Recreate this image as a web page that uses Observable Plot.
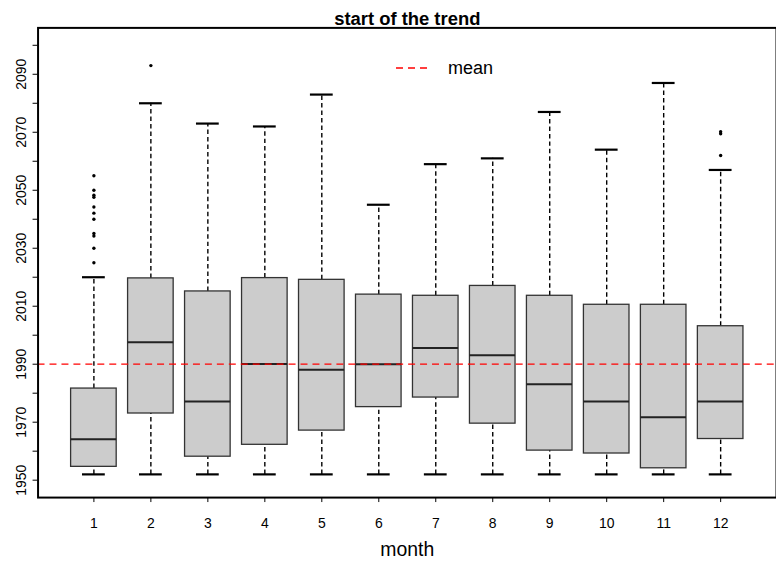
<!DOCTYPE html>
<html><head><meta charset="utf-8">
<script src="https://cdn.jsdelivr.net/npm/d3@7"></script>
<script src="https://cdn.jsdelivr.net/npm/@observablehq/plot@0.6"></script>
<style>
html,body{margin:0;padding:0;background:#fff;overflow:hidden;}
#wrap{position:relative;width:776px;height:567px;overflow:hidden;font-family:"Liberation Sans",Arial,sans-serif;}
#legend{position:absolute;left:390px;top:56px;}
</style></head>
<body>
<div id="wrap"><div id="chart"></div>
<svg id="legend" width="140" height="26">
  <line x1="6" x2="37" y1="12" y2="12" stroke="red" stroke-width="1.3" stroke-dasharray="7,5"></line>
  <text x="58" y="12" dominant-baseline="central" font-size="18" font-family="Liberation Sans, Arial, sans-serif">mean</text>
</svg>
</div>
<script>
const title = "start of the trend";
const xLabel = "month";
const months = [1,2,3,4,5,6,7,8,9,10,11,12];
const lower  = [1952,1952,1952,1952,1952,1952,1952,1952,1952,1952,1952,1952];
const q1     = [1954.6,1973.0,1958.1,1962.2,1967.1,1975.2,1978.5,1969.5,1960.2,1959.2,1954.1,1964.2];
const median = [1964.1,1997.6,1977.1,1990.1,1988.1,1990.0,1995.6,1993.1,1983.1,1977.1,1971.7,1977.1];
const q3     = [1981.6,2019.6,2015.1,2019.7,2019.1,2014.0,2013.6,2017.0,2013.6,2010.5,2010.5,2003.1];
const upper  = [2020,2080,2073,2072,2083,2045,2059,2061,2077,2064,2087,2057];
const outlierMonth = [1,1,1,1,1,1,1,1,1,1,1,2,12,12,12];
const outlierValue = [2055,2050,2048.3,2047.6,2044.2,2042.1,2040,2035.1,2034.2,2030,2025,2093,2070.2,2069.5,2062];
const meanValue = 1990;
const yTicks = [1950,1960,1970,1980,1990,2000,2010,2020,2030,2040,2050,2060,2070,2080,2090,2100];
const yLabels = [1950,1970,1990,2010,2030,2050,2070,2090];

const table = months.map((m,i)=>({month:m, lower:lower[i], q1:q1[i], median:median[i], q3:q3[i], upper:upper[i]}));
const outliers = outlierMonth.map((m,i)=>({month:m, value:outlierValue[i]}));
const half = 0.4, capHalf = 0.2;

const chart = Plot.plot({
  width: 779, height: 567,
  marginLeft: 37.7, marginRight: 0, marginTop: 27.5, marginBottom: 68,
  style: {fontFamily: "Liberation Sans, Arial, sans-serif", fontSize: "14px", background: "white", color: "black", overflow: "visible"},
  x: {type: "linear", domain: [0.02, 12.98]},
  y: {domain: [1944, 2106]},
  marks: [
    Plot.ruleX(table, {x: "month", y1: "q3", y2: "upper", stroke: "black", strokeDasharray: "4.5,3", strokeWidth: 1.4}),
    Plot.ruleX(table, {x: "month", y1: "lower", y2: "q1", stroke: "black", strokeDasharray: "4.5,3", strokeWidth: 1.4}),
    Plot.ruleY(table, {y: "upper", x1: d => d.month - capHalf, x2: d => d.month + capHalf, stroke: "black", strokeWidth: 2.2}),
    Plot.ruleY(table, {y: "lower", x1: d => d.month - capHalf, x2: d => d.month + capHalf, stroke: "black", strokeWidth: 2.2}),
    Plot.rect(table, {x1: d => d.month - half, x2: d => d.month + half, y1: "q1", y2: "q3", fill: "#cccccc", stroke: "#333333", strokeWidth: 1.3}),
    Plot.ruleY(table, {y: "median", x1: d => d.month - half, x2: d => d.month + half, stroke: "#222222", strokeWidth: 2}),
    Plot.dot(outliers, {x: "month", y: "value", r: 1.7, fill: "black", stroke: null}),
    Plot.ruleY([meanValue], {stroke: "red", strokeDasharray: "7,5", strokeWidth: 1.3}),
    Plot.frame({stroke: "black", strokeWidth: 2}),
    Plot.axisY({ticks: yTicks, tickFormat: d => yLabels.includes(d) ? String(d) : "", tickRotate: -90, tickSize: 5, tickPadding: 7, fontSize: 14, label: null}),
    Plot.axisX({ticks: months, tickFormat: d => String(d), tickSize: 5, tickPadding: 16, fontSize: 14, label: null}),
    Plot.text([title], {frameAnchor: "top", dy: -16, fontWeight: "bold", fontSize: 18.5, fill: "black"}),
    Plot.text([xLabel], {frameAnchor: "bottom", dy: 59, fontSize: 19.5, fill: "black"})
  ]
});
document.getElementById("chart").appendChild(chart);
</script>
</body></html>
